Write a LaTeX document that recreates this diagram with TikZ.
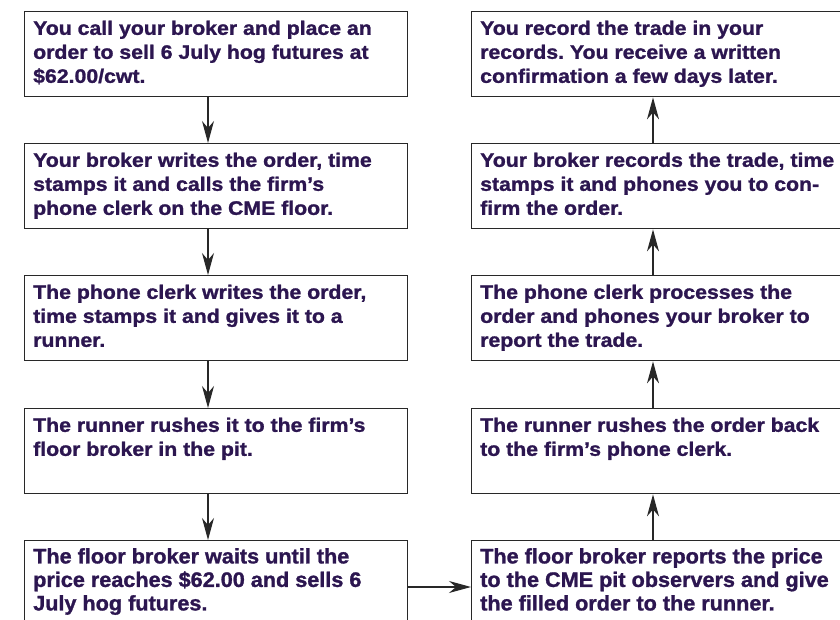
\documentclass[tikz,border=0pt]{standalone}
\usepackage{fontspec}
\setmainfont{Liberation Sans}
\newfontfamily\topfont[FakeStretch=1.09,FakeBold=1.3]{Liberation Sans Bold}
\newfontfamily\botfont[FakeStretch=1.03,FakeBold=1.3]{Liberation Sans Bold}
\usetikzlibrary{arrows.meta}
\definecolor{txtcol}{RGB}{44,22,80}
\definecolor{linecol}{RGB}{40,40,40}
\frenchspacing
\tikzset{
  x=1pt,y=1pt,
  box/.style={draw=linecol, line width=1.4pt, fill=white, minimum width=383pt, minimum height=85pt, inner sep=0pt, anchor=north west},
  txt/.style={anchor=north west, align=left, inner sep=0pt, text=txtcol, font=\fontsize{19.5}{24}\selectfont\topfont\frenchspacing},
  ctxt/.style={txt, font=\fontsize{21}{23.5}\selectfont\botfont\frenchspacing},
  arr/.style={draw=linecol, line width=1.3pt, -{Stealth[length=22pt,width=12pt,inset=7pt]}}
}
\begin{document}
\begin{tikzpicture}
\useasboundingbox (0,0) rectangle (840,-620);
\fill[white] (0,0) rectangle (840,-620);
\begin{scope}
\clip (0,0) rectangle (840,-620);
% left column
\node[box] (L1) at (24,-11) {};
\node[box] (L2) at (24,-143) {};
\node[box] (L3) at (24,-275) {};
\node[box] (L4) at (24,-408) {};
\node[box] (L5) at (24,-540) {};
% right column
\node[box] (R1) at (471,-11) {};
\node[box] (R2) at (471,-143) {};
\node[box] (R3) at (471,-275) {};
\node[box] (R4) at (471,-408) {};
\node[box] (R5) at (471,-540) {};

\node[txt] (tL1) at ([shift={(9,-9.5)}]L1.north west) {You call your broker and place an\\order to sell 6 July hog futures at\\\$62.00/cwt.};
\node[txt] (tL2) at ([shift={(9,-9.5)}]L2.north west) {Your broker writes the order, time\\stamps it and calls the firm’s\\phone clerk on the CME floor.};
\node[txt] (tL3) at ([shift={(9,-9.5)}]L3.north west) {The phone clerk writes the order,\\time stamps it and gives it to a\\runner.};
\node[txt] (tL4) at ([shift={(9,-9.5)}]L4.north west) {The runner rushes it to the firm’s\\floor broker in the pit.};
\node[ctxt] (tL5) at ([shift={(9,-8)}]L5.north west) {The floor broker waits until the\\price reaches \$62.00 and sells 6\\July hog futures.};

\node[txt] (tR1) at ([shift={(9,-9.5)}]R1.north west) {You record the trade in your\\records. You receive a written\\confirmation a few days later.};
\node[txt] (tR2) at ([shift={(9,-9.5)}]R2.north west) {Your broker records the trade, time\\stamps it and phones you to con-\\firm the order.};
\node[txt] (tR3) at ([shift={(9,-9.5)}]R3.north west) {The phone clerk processes the\\order and phones your broker to\\report the trade.};
\node[txt] (tR4) at ([shift={(9,-9.5)}]R4.north west) {The runner rushes the order back\\to the firm’s phone clerk.};
\node[ctxt] (tR5) at ([shift={(9,-8)}]R5.north west) {The floor broker reports the price\\to the CME pit observers and give\\the filled order to the runner.};

\coordinate (ax) at (208,0);
\coordinate (bx) at (653,0);
\coordinate (hy) at (0,-587);
\draw[arr] (ax |- L1.south) -- (ax |- L2.north);
\draw[arr] (ax |- L2.south) -- (ax |- L3.north);
\draw[arr] (ax |- L3.south) -- (ax |- L4.north);
\draw[arr] (ax |- L4.south) -- (ax |- L5.north);
\draw[arr] (hy -| L5.east) -- (hy -| R5.west);
\draw[arr] (bx |- R5.north) -- (bx |- R4.south);
\draw[arr] (bx |- R4.north) -- (bx |- R3.south);
\draw[arr] (bx |- R3.north) -- (bx |- R2.south);
\draw[arr] (bx |- R2.north) -- (bx |- R1.south);
\end{scope}
\end{tikzpicture}
\end{document}
